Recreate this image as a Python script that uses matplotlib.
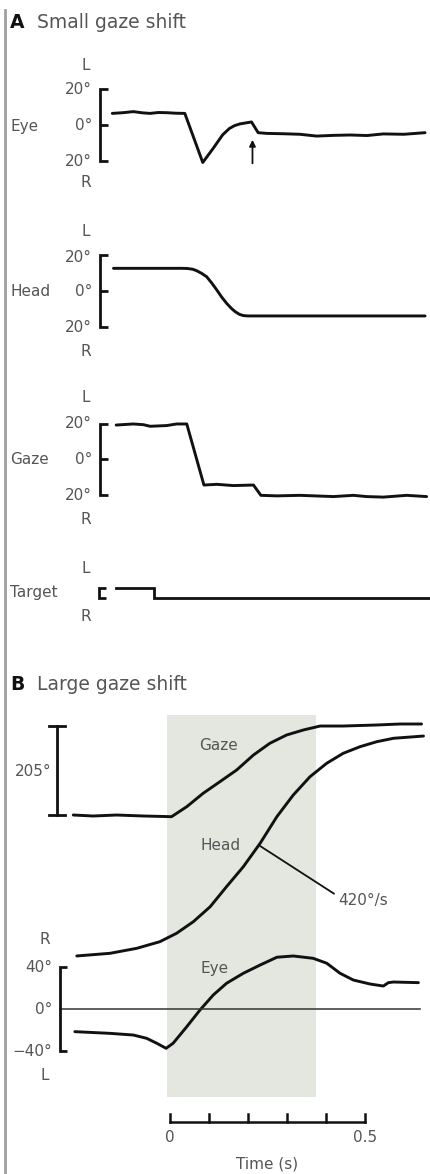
import matplotlib
matplotlib.use('Agg')
import matplotlib.pyplot as plt
from matplotlib.patches import Rectangle

plt.rcParams['font.family'] = ['DejaVu Sans']

# Panel A: small gaze shift (time in s, angles in deg)
eye_a_t = [-0.148, -0.12, -0.094, -0.07, -0.051, -0.03, -0.009, 0.015, 0.038, 0.084, 0.111,
           0.135, 0.152, 0.165, 0.179, 0.209, 0.226, 0.248, 0.29, 0.333, 0.376, 0.42, 0.462, 0.505,
           0.547, 0.6, 0.654]
eye_a = [6.5, 6.9, 7.5, 6.8, 6.5, 7.0, 6.9, 6.6, 6.5, -21.0, -13.0, -5.5, -2.0, -0.4, 0.6, 1.7,
         -4.3, -4.7, -4.9, -5.2, -6.2, -5.8, -5.6, -5.9, -5.0, -5.2, -4.3]

head_a_t = [-0.145, 0.030, 0.045, 0.058, 0.068, 0.081, 0.094, 0.107, 0.120, 0.132, 0.145, 0.157,
            0.167, 0.178, 0.188, 0.20, 0.654]
head_a = [12.5, 12.5, 12.4, 12.0, 11.2, 9.7, 7.8, 4.3, 0.4, -3.4, -7.0, -9.8, -11.7, -13.2, -13.9,
          -14.1, -14.1]

gaze_a_t = [-0.138, -0.094, -0.068, -0.051, -0.009, 0.017, 0.043, 0.087, 0.120, 0.162, 0.214,
            0.233, 0.274, 0.333, 0.419, 0.470, 0.504, 0.547, 0.607, 0.658]
gaze_a = [19.3, 19.9, 19.5, 18.6, 19.0, 19.9, 19.9, -14.5, -14.1, -14.8, -14.5, -20.3, -20.6,
          -20.3, -21.0, -20.3, -21.0, -21.3, -20.3, -21.0]

target_t = [-0.138, -0.041, -0.041, 0.667]
target = [20, 20, -20, -20]

arrow_t = 0.2115  # time of the marked eye event

# Panel B: large gaze shift
gaze_b_t = [-0.248, -0.197, -0.137, -0.068, 0.004, 0.043, 0.085, 0.128, 0.171, 0.214, 0.256,
            0.299, 0.342, 0.385, 0.444, 0.530, 0.590, 0.645]
gaze_b = [-1.2, -3.5, -1.2, -3.5, -5.1, 18.2, 49.4, 76.4, 103.7, 138.6, 165.9, 185.2, 196.9,
          206.1, 206.1, 208.5, 210.8, 210.8]

head_b_t = [-0.239, -0.154, -0.085, -0.026, 0.017, 0.060, 0.103, 0.145, 0.188, 0.231, 0.274,
            0.316, 0.359, 0.402, 0.444, 0.487, 0.530, 0.573, 0.650]
head_b = [-83.3, -81.3, -77.5, -72.5, -66.1, -57.3, -46.0, -30.8, -15.7, 2.0, 22.2, 38.6, 52.5,
          62.7, 70.2, 75.2, 79.0, 81.6, 83.3]

eye_b_t = [-0.244, -0.154, -0.094, -0.060, -0.034, -0.010, 0.008, 0.043, 0.077, 0.111, 0.145,
           0.188, 0.231, 0.274, 0.316, 0.367, 0.402, 0.436, 0.470, 0.513, 0.547, 0.560, 0.573, 0.637]
eye_b = [-21.5, -23.1, -24.7, -27.8, -32.5, -37.3, -32.5, -16.8, -0.9, 13.3, 24.4, 33.9, 41.7,
         49.1, 50.3, 48.1, 43.4, 33.9, 27.5, 23.7, 21.8, 25.0, 25.6, 25.0]

shade_window = [-0.008, 0.374]
time_ticks = [0, 0.1, 0.2, 0.3, 0.4, 0.5]
head_velocity_t = 0.231

W, H = 430, 1174
T0_PX, PX_PER_S = 170, 390
INK = '#111111'
GREY = '#555555'
FS = 11


def px2t(px):
    return (px - T0_PX) / PX_PER_S


def t2px(t):
    return T0_PX + PX_PER_S * t


fig = plt.figure(figsize=(W / 100, H / 100), dpi=100)
base = fig.add_axes([0, 0, 1, 1], label='base')
base.set_xlim(0, W)
base.set_ylim(H, 0)
base.axis('off')


def trace_axes(name, zero_px, px_per_unit):
    ax = fig.add_axes([0, 0, 1, 1], label=name)
    ax.set_xlim(px2t(0), px2t(W))
    ax.set_ylim((zero_px - H) / px_per_unit, zero_px / px_per_unit)
    ax.axis('off')
    ax.patch.set_visible(False)
    return ax


def bracket(ax, x_px, lo, hi, mid=None, tick_px=8, lw=2.0):
    x = px2t(x_px)
    dx = tick_px / PX_PER_S
    ax.plot([x + dx, x, x, x + dx], [hi, hi, lo, lo], color=INK, lw=lw,
            solid_joinstyle='miter', solid_capstyle='butt')
    if mid is not None:
        ax.plot([x, x + dx], [mid, mid], color=INK, lw=lw, solid_capstyle='butt')


def txt(x, y, s, ha='center', size=FS, **kw):
    base.text(x, y, s, ha=ha, va='center', fontsize=size, color=GREY, **kw)


def trace(ax, t, v):
    ax.plot(t, v, color=INK, lw=2.1, solid_joinstyle='round', solid_capstyle='round')


# left border line
base.plot([5, 5], [10, H], color='#a0a0a0', lw=2)

# titles
base.text(10, 28, 'A', fontsize=13.5, fontweight='bold', color=INK, va='baseline')
base.text(37, 28, 'Small gaze shift', fontsize=13.5, color=GREY, va='baseline')
base.text(10, 690, 'B', fontsize=13.5, fontweight='bold', color=INK, va='baseline')
base.text(37, 690, 'Large gaze shift', fontsize=13.5, color=GREY, va='baseline')

# ---- Panel A ----
ax_eye_a = trace_axes('eye_a', 125, 1.785)
trace(ax_eye_a, eye_a_t, eye_a)
bracket(ax_eye_a, 100, -20, 20, mid=0)
ax_eye_a.annotate('', xy=(arrow_t, -8.3), xytext=(arrow_t, -21.5),
                  arrowprops=dict(arrowstyle='-|>', color=INK, lw=1.3, mutation_scale=9,
                                  shrinkA=0, shrinkB=0))
txt(86, 66, 'L'); txt(92, 89.5, '20°', ha='right'); txt(92, 125, '0°', ha='right')
txt(92, 161.5, '20°', ha='right'); txt(86, 182.5, 'R'); txt(10, 126, 'Eye', ha='left')

ax_head_a = trace_axes('head_a', 290.7, 1.79)
trace(ax_head_a, head_a_t, head_a)
bracket(ax_head_a, 100, -20, 20, mid=0)
txt(86, 231, 'L'); txt(92, 257, '20°', ha='right'); txt(92, 291, '0°', ha='right')
txt(92, 327, '20°', ha='right'); txt(86, 351, 'R'); txt(10, 291, 'Head', ha='left')

ax_gaze_a = trace_axes('gaze_a', 459.3, 1.775)
trace(ax_gaze_a, gaze_a_t, gaze_a)
bracket(ax_gaze_a, 100, -20, 20, mid=0)
txt(86, 398, 'L'); txt(92, 423, '20°', ha='right'); txt(92, 459, '0°', ha='right')
txt(92, 495, '20°', ha='right'); txt(86, 519, 'R'); txt(10, 459, 'Gaze', ha='left')

ax_tgt = trace_axes('target', 593, 0.265)
ax_tgt.plot(target_t, target, color=INK, lw=2, solid_joinstyle='miter')
bracket(ax_tgt, 99, -20, 20, tick_px=7)
txt(86, 568.5, 'L'); txt(86, 616.5, 'R'); txt(10, 593, 'Target', ha='left')

# ---- Panel B ----
base.add_patch(Rectangle((t2px(shade_window[0]), 715),
                         t2px(shade_window[1]) - t2px(shade_window[0]), 382,
                         facecolor='#e4e6e0', edgecolor='none', zorder=0))

ax_gaze_b = trace_axes('gaze_b', 814.5, 0.4293)
trace(ax_gaze_b, gaze_b_t, gaze_b)
xs = px2t(57)
ds = 8 / PX_PER_S
ax_gaze_b.plot([xs, xs], [0, 205], color=INK, lw=2)
ax_gaze_b.plot([xs - ds, xs + ds], [0, 0], color=INK, lw=2)
ax_gaze_b.plot([xs - ds, xs + ds], [205, 205], color=INK, lw=2)
txt(51, 772, '205°', ha='right')
txt(219, 746, 'Gaze')

ax_head_b = trace_axes('head_b', 846, 1.32)
trace(ax_head_b, head_b_t, head_b)
txt(221, 845, 'Head')
ax_head_b.annotate('420°/s', xy=(head_velocity_t, 0), xytext=(338, 900),
                   textcoords=base.transData, ha='left', va='center', fontsize=FS, color=GREY,
                   arrowprops=dict(arrowstyle='-', color=INK, lw=1.3, shrinkA=1, shrinkB=0,
                                   relpos=(0, 0.75)))

ax_eye_b = trace_axes('eye_b', 1009, 1.054)
trace(ax_eye_b, eye_b_t, eye_b)
ax_eye_b.plot([px2t(60), px2t(420)], [0, 0], color='#333333', lw=1.1)
bracket(ax_eye_b, 60, -40, 40, tick_px=7)
txt(45, 939, 'R'); txt(52, 967, '40°', ha='right'); txt(52, 1009, '0°', ha='right')
txt(52, 1052, '−40°', ha='right'); txt(45, 1076, 'L')
txt(215, 968, 'Eye')

# time scale bar
y_axis = 1122
base.plot([t2px(time_ticks[0]), t2px(time_ticks[-1])], [y_axis, y_axis], color=INK, lw=1.8)
for tk in time_ticks:
    base.plot([t2px(tk), t2px(tk)], [y_axis, y_axis - 8], color=INK, lw=1.8)
txt(t2px(0), 1138, '0'); txt(t2px(0.5), 1138, '0.5')
txt(267, 1164, 'Time (s)')

fig.savefig('out.png', dpi=100)
plt.close(fig)
